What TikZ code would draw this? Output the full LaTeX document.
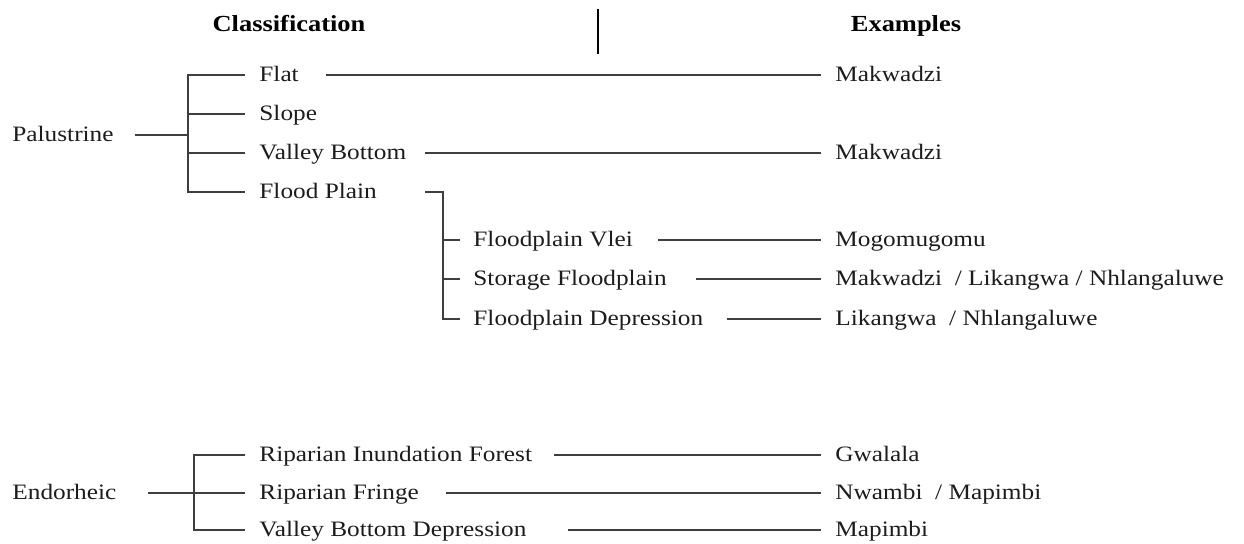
\documentclass[tikz,border=0pt]{standalone}
\usepackage{fontspec}
\setmainfont{Liberation Serif}[FakeStretch=1.15]
\usepackage{tikz}
\usetikzlibrary{positioning, calc}
\definecolor{linegray}{RGB}{62,62,62}
\definecolor{textdark}{RGB}{28,28,28}

\begin{document}
\begin{tikzpicture}[
    x=0.5pt, y=-0.5pt,
    lbl/.style    = {anchor=west, inner sep=0pt, text=textdark,
                     font=\fontsize{11pt}{13pt}\selectfont,
                     text height=0.66em, text depth=0pt},
    head/.style   = {inner sep=0pt, font=\fontsize{11.5pt}{14pt}\selectfont\bfseries,
                     text height=0.66em, text depth=0pt},
    link/.style   = {line width=0.9pt, color=linegray}
  ]
  \useasboundingbox (0,0) rectangle (1244,544);

  % column headings
  \node[head] (cls) at (289,25) {Classification};
  \node[head] (exa) at (906,25) {Examples};
  \coordinate (divtop) at (598,9);
  \coordinate (divbot) at (598,54);
  \draw[line width=1pt] (divtop) -- (divbot);

  % Palustrine branch
  \node[lbl] (pal)    at (12,135)  {Palustrine};
  \node[lbl] (flat)   at (259,75)  {Flat};
  \node[lbl] (slope)  at (259,114) {Slope};
  \node[lbl] (valley) at (259,153) {Valley Bottom};
  \node[lbl] (flood)  at (259,192) {Flood Plain};
  \node[lbl] (fpvlei)  at (473,240) {Floodplain Vlei};
  \node[lbl] (fpstore) at (473,279) {Storage Floodplain};
  \node[lbl] (fpdep)   at (473,319) {Floodplain Depression};
  \coordinate (palfork) at (188,135);
  \coordinate (fpfork)  at (443,192);

  % Endorheic branch
  \node[lbl] (endo)   at (12,493)  {Endorheic};
  \node[lbl] (rif)    at (259,455) {Riparian Inundation Forest};
  \node[lbl] (fringe) at (259,493) {Riparian Fringe};
  \node[lbl] (vbd)    at (259,530) {Valley Bottom Depression};
  \coordinate (endfork) at (194,493);

  % examples
  \node[lbl] (mak1)  at (835,75)  {Makwadzi};
  \node[lbl] (mak2)  at (835,153) {Makwadzi};
  \node[lbl] (mogo)  at (835,240) {Mogomugomu};
  \node[lbl] (exstore) at (835,279) {Makwadzi\ \ / Likangwa / Nhlangaluwe};
  \node[lbl] (exdep)   at (835,319) {Likangwa\ \ / Nhlangaluwe};
  \node[lbl] (gwa)   at (835,455) {Gwalala};
  \node[lbl] (nwa)   at (835,493) {Nwambi\ \ / Mapimbi};
  \node[lbl] (mapi)  at (835,530) {Mapimbi};

  % brackets
  \draw[link] ($(pal.east)+(21,0)$) -- (palfork);
  \draw[link] ($(flat.west)+(-14,0)$) -- (flat.west -| palfork)
              -- (flood.west -| palfork) -- ($(flood.west)+(-14,0)$);
  \foreach \n in {slope, valley}
    \draw[link] (\n.west -| palfork) -- ($(\n.west)+(-14,0)$);

  \draw[link] ($(flood.east)+(48,0)$) -- (fpfork)
              |- ($(fpdep.west)+(-13,0)$);
  \foreach \n in {fpvlei, fpstore}
    \draw[link] (\n.west -| fpfork) -- ($(\n.west)+(-13,0)$);

  \draw[link] ($(endo.east)+(31,0)$) -- ($(fringe.west)+(-14,0)$);
  \draw[link] ($(rif.west)+(-14,0)$) -- (rif.west -| endfork)
              -- (vbd.west -| endfork) -- ($(vbd.west)+(-14,0)$);

  % links to the examples
  \draw[link] ($(flat.east)+(27,0)$)    -- ($(mak1.west)+(-14,0)$);
  \draw[link] ($(valley.east)+(18,0)$)  -- ($(mak2.west)+(-14,0)$);
  \draw[link] ($(fpvlei.east)+(25,0)$)  -- ($(mogo.west)+(-14,0)$);
  \draw[link] ($(fpstore.east)+(29,0)$) -- ($(exstore.west)+(-14,0)$);
  \draw[link] ($(fpdep.east)+(23,0)$)   -- ($(exdep.west)+(-14,0)$);
  \draw[link] ($(rif.east)+(22,0)$)     -- ($(gwa.west)+(-14,0)$);
  \draw[link] ($(fringe.east)+(27,0)$)  -- ($(nwa.west)+(-14,0)$);
  \draw[link] ($(vbd.east)+(41,0)$)     -- ($(mapi.west)+(-14,0)$);
\end{tikzpicture}
\end{document}
